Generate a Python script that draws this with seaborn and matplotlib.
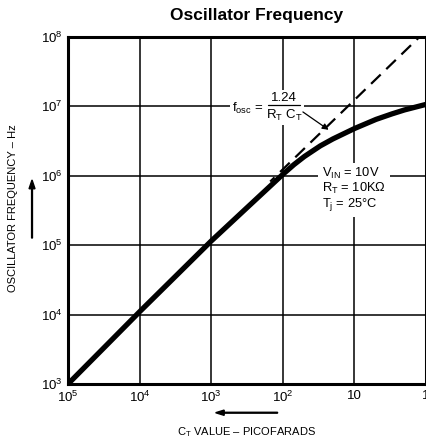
import numpy as np
import pandas as pd
import matplotlib
matplotlib.use("Agg")
import matplotlib.pyplot as plt
import seaborn as sns
from matplotlib.ticker import FixedLocator, FixedFormatter, NullLocator

# data (C in pF, f in Hz)
cap_pf = [1e5, 3e4, 1e4, 3e3, 1e3, 3e2, 1e2, 70, 50, 30, 20, 10, 5, 3, 2, 1]
freq_hz = [1.0e3, 3.5e3, 1.1e4, 3.75e4, 1.15e5, 3.66e5, 1.05e6, 1.45e6, 1.9e6,
           2.7e6, 3.4e6, 4.8e6, 6.5e6, 7.8e6, 8.9e6, 1.07e7]

# ideal f = 1.24 / (RT * CT), RT = 10k
ideal_cap = [150, 1]
ideal_freq = [1.24 / (10e3 * c * 1e-12) for c in ideal_cap]

x_ticks = [1e5, 1e4, 1e3, 1e2, 10, 1]
x_labels = ["10$^5$", "10$^4$", "10$^3$", "10$^2$", "10", "1"]
y_ticks = [1e3, 1e4, 1e5, 1e6, 1e7, 1e8]
y_labels = ["10$^3$", "10$^4$", "10$^5$", "10$^6$", "10$^7$", "10$^8$"]

sns.set_style("white")
plt.rcParams["font.family"] = ["Liberation Sans", "DejaVu Sans"]
plt.rcParams["text.color"] = "black"
plt.rcParams["mathtext.fontset"] = "custom"
plt.rcParams["mathtext.rm"] = "Liberation Sans"
plt.rcParams["mathtext.it"] = "Liberation Sans"
plt.rcParams["mathtext.bf"] = "Liberation Sans:bold"
plt.rcParams["mathtext.default"] = "regular"

fig = plt.figure(figsize=(4.27, 4.40), dpi=100)
ax = fig.add_axes([0.159, 0.127, 0.839, 0.789])

df = pd.DataFrame({"cap": cap_pf, "freq": freq_hz})
ideal = pd.DataFrame({"cap": ideal_cap, "freq": ideal_freq})

sns.lineplot(data=df, x="cap", y="freq", color="black", linewidth=3.8, ax=ax,
             zorder=4, solid_capstyle="butt")
sns.lineplot(data=ideal, x="cap", y="freq", color="black", linewidth=1.6, ax=ax,
             zorder=3)
ax.lines[-1].set_dashes([6, 3.5])

ax.set_xscale("log")
ax.set_yscale("log")
ax.set_xlim(1e5, 1)
ax.set_ylim(1e3, 1e8)

ax.xaxis.set_major_locator(FixedLocator(x_ticks))
ax.xaxis.set_major_formatter(FixedFormatter(x_labels))
ax.xaxis.set_minor_locator(NullLocator())
ax.yaxis.set_major_locator(FixedLocator(y_ticks))
ax.yaxis.set_major_formatter(FixedFormatter(y_labels))
ax.yaxis.set_minor_locator(NullLocator())
ax.tick_params(length=0, labelsize=9.5, colors="black", pad=4)
ax.grid(True, color="black", linewidth=1.1)
ax.set_axisbelow(True)
for s in ax.spines.values():
    s.set_linewidth(2.2)
    s.set_color("black")
ax.set_xlabel("")
ax.set_ylabel("")

fig.text(0.602, 0.965, "Oscillator Frequency", ha="center", va="center",
         fontsize=12.5, fontweight="bold")

# axis titles with arrows
fig.text(0.578, 0.018, "C$_T$ VALUE – PICOFARADS", ha="center", va="center",
         fontsize=8)
fig.patches.append(matplotlib.patches.FancyArrow(
    0.65, 0.062, -0.145, 0, width=0.002, head_width=0.012, head_length=0.02,
    length_includes_head=True, color="black", transform=fig.transFigure))
fig.text(0.030, 0.528, "OSCILLATOR FREQUENCY – Hz", ha="center", va="center",
         fontsize=8, rotation=90)
fig.patches.append(matplotlib.patches.FancyArrow(
    0.075, 0.459, 0, 0.132, width=0.002, head_width=0.014, head_length=0.02,
    length_includes_head=True, color="black", transform=fig.transFigure))

# formula annotation
bg = dict(facecolor="white", edgecolor="none", pad=1.5)
ax.text(0.458, 0.795, "f$_{osc}$ =", transform=ax.transAxes, fontsize=9.5,
        ha="left", va="center", bbox=bg, zorder=5)
ax.text(0.603, 0.823, "1.24", transform=ax.transAxes, fontsize=9.5,
        ha="center", va="center", bbox=bg, zorder=5)
ax.text(0.603, 0.775, "R$_T$ C$_T$", transform=ax.transAxes, fontsize=9.5,
        ha="center", va="center", bbox=bg, zorder=5)
ax.plot([0.559, 0.648], [0.804, 0.804], transform=ax.transAxes, color="black",
        linewidth=0.9, zorder=6)
ax.annotate("", xy=(23, 4.6e6), xytext=(0.656, 0.784),
            textcoords="axes fraction",
            arrowprops=dict(arrowstyle="-|>", color="black", linewidth=0.9,
                            mutation_scale=9, shrinkA=0, shrinkB=0), zorder=6)

ax.text(0.709, 0.562, "V$_{IN}$ = 10V\nR$_T$ = 10KΩ\nT$_j$ = 25°C",
        transform=ax.transAxes, fontsize=9.3, ha="left", va="center",
        linespacing=1.0,
        bbox=dict(facecolor="white", edgecolor="none", pad=3), zorder=5)

fig.savefig("out.png", dpi=100)
